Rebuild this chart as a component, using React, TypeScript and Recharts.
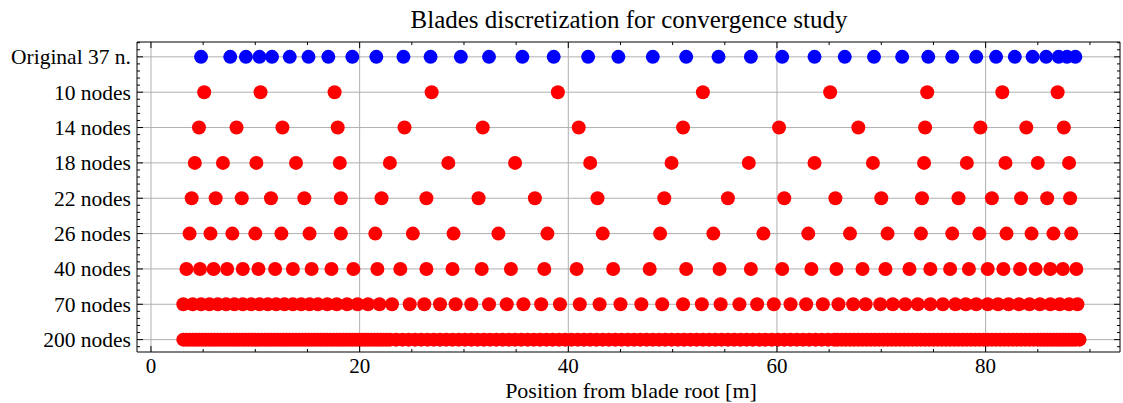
import React from 'react';
import { ScatterChart, Scatter, XAxis, YAxis, ReferenceLine } from 'recharts';

const FONT = '"Liberation Serif", "Times New Roman", serif';

const rowLabels = ['Original 37 n.', '10 nodes', '14 nodes', '18 nodes', '22 nodes', '26 nodes', '40 nodes', '70 nodes', '200 nodes'];

const original37 = [4.8, 7.6, 9.1, 10.4, 11.6, 13.3, 15.1, 17.0, 19.3, 21.6, 24.2, 26.8, 29.7, 32.4, 35.6, 38.6, 41.9, 44.8, 48.1, 51.3, 54.4, 57.5, 60.5, 63.6, 66.5, 69.3, 72.0, 74.5, 76.8, 79.1, 81.0, 82.8, 84.5, 85.8, 87.0, 87.8, 88.6];
const nodes10 = [5.1, 10.5, 17.6, 26.9, 39.0, 52.9, 65.1, 74.4, 81.6, 86.9];
const nodes14 = [4.6, 8.2, 12.6, 17.9, 24.3, 31.8, 41.0, 51.0, 60.2, 67.8, 74.2, 79.5, 83.9, 87.5];
const nodes18 = [4.2, 6.9, 10.1, 13.9, 18.1, 22.9, 28.5, 34.9, 42.1, 49.9, 57.3, 63.6, 69.2, 74.1, 78.2, 81.9, 85.0, 88.0];
const nodes22 = [3.9, 6.2, 8.7, 11.5, 14.7, 18.2, 22.1, 26.4, 31.4, 36.8, 42.8, 49.2, 55.3, 60.7, 65.6, 70.0, 73.9, 77.4, 80.6, 83.4, 85.9, 88.1];
const nodes26 = [3.7, 5.7, 7.8, 10.0, 12.5, 15.2, 18.2, 21.5, 25.1, 29.0, 33.3, 38.0, 43.3, 48.8, 53.9, 58.7, 63.0, 67.0, 70.6, 73.8, 76.8, 79.4, 82.0, 84.4, 86.5, 88.2];
const nodes40 = [3.4, 4.7, 6.0, 7.3, 8.8, 10.3, 11.9, 13.6, 15.4, 17.3, 19.4, 21.7, 23.9, 26.4, 28.9, 31.7, 34.5, 37.7, 40.8, 44.3, 47.8, 51.3, 54.5, 57.5, 60.5, 63.3, 65.7, 68.2, 70.4, 72.7, 74.7, 76.6, 78.4, 80.2, 81.7, 83.3, 84.8, 86.2, 87.4, 88.7];
const nodes70 = [3.1, 4.0, 4.8, 5.6, 6.4, 7.2, 8.0, 8.8, 9.6, 10.4, 11.2, 12.0, 12.8, 13.6, 14.4, 15.2, 16.0, 16.9, 17.8, 18.8, 19.8, 20.8, 21.9, 23.1,
  24.8, 26.2, 27.7, 29.2, 30.7, 32.4, 34.1, 35.7, 37.4, 39.2, 41.1, 43.0, 45.0, 47.0, 49.0, 51.0, 52.8, 54.6, 56.4, 58.1, 59.7, 61.3, 62.8, 64.4, 65.9, 67.3, 68.5,
  69.9, 71.1, 72.3, 73.5, 74.7, 75.9, 77.1, 78.1, 79.1, 80.2, 81.2, 82.2, 83.2, 84.2, 85.2, 86.2, 87.1, 88.0, 88.8];
const nodes200 = [3.1, 3.4, 3.7, 4.0, 4.3, 4.6, 4.9, 5.2, 5.5, 5.8, 6.1, 6.4, 6.7, 7.0, 7.3, 7.6, 7.9, 8.2, 8.5, 8.8, 9.1, 9.4, 9.7, 10.0, 10.3, 10.6, 10.9, 11.2, 11.5, 11.8, 12.1, 12.4, 12.7, 13.0, 13.3, 13.6, 13.9, 14.2, 14.5, 14.8, 15.1, 15.4, 15.7, 16.0, 16.3, 16.6, 16.9, 17.2, 17.5, 17.8, 18.1, 18.4, 18.7, 19.0, 19.3, 19.6, 19.9, 20.2, 20.5, 20.8, 21.1, 21.4, 21.7, 22.0, 22.3, 22.6, 22.9,
  23.5, 24.1, 24.7, 25.3, 25.9, 26.5, 27.1, 27.7, 28.3, 28.9, 29.5, 30.1, 30.7, 31.3, 31.9, 32.5, 33.1, 33.7, 34.3, 34.9, 35.5, 36.1, 36.7, 37.3, 37.9, 38.5, 39.1, 39.7, 40.3, 40.9, 41.5, 42.1, 42.7, 43.3, 43.9, 44.5, 45.1, 45.7, 46.3, 46.9, 47.5, 48.1, 48.7, 49.3, 49.9, 50.5, 51.1, 51.7, 52.3, 52.9, 53.5, 54.1, 54.7, 55.3, 55.9, 56.5, 57.1, 57.7, 58.3, 58.9, 59.5, 60.1, 60.7, 61.3, 61.9, 62.5, 63.1, 63.7, 64.3, 64.9, 65.5,
  65.8, 66.2, 66.6, 67.0, 67.4, 67.8, 68.2, 68.6, 69.0, 69.4, 69.8, 70.2, 70.6, 71.0, 71.4, 71.8, 72.2, 72.6, 73.0, 73.4, 73.8, 74.2, 74.6, 75.0, 75.4, 75.8, 76.2, 76.6, 77.0, 77.4, 77.8, 78.2, 78.6, 79.0, 79.4, 79.8, 80.2, 80.6, 81.0, 81.4, 81.8, 82.2, 82.6, 83.0, 83.4, 83.8, 84.2, 84.6, 85.0, 85.3, 85.6, 85.9, 86.2, 86.5, 86.8, 87.1, 87.4, 87.7, 88.0, 88.3, 88.6, 89.0];

const rows = [original37, nodes10, nodes14, nodes18, nodes22, nodes26, nodes40, nodes70, nodes200];
const rowColors = ['#0000ff', '#ff0000', '#ff0000', '#ff0000', '#ff0000', '#ff0000', '#ff0000', '#ff0000', '#ff0000'];

const xMajorTicks = [0, 20, 40, 60, 80];
const xMinorTicks = [5, 10, 15, 25, 30, 35, 45, 50, 55, 65, 70, 75, 85, 90];
const xTicks = [...xMajorTicks, ...xMinorTicks].sort((a, b) => a - b);
const yMajorTicks = [0, 1, 2, 3, 4, 5, 6, 7, 8];
const yMinorTicks = [-0.4, -0.2, 0.2, 0.4, 0.6, 0.8, 1.2, 1.4, 1.6, 1.8, 2.2, 2.4, 2.6, 2.8, 3.2, 3.4, 3.6, 3.8, 4.2, 4.4, 4.6, 4.8, 5.2, 5.4, 5.6, 5.8, 6.2, 6.4, 6.6, 6.8, 7.2, 7.4, 7.6, 7.8, 8.2];
const yTicks = [...yMajorTicks, ...yMinorTicks].sort((a, b) => a - b);

const X_DOMAIN: [number, number] = [-1.34, 92.88];
const Y_DOMAIN: [number, number] = [-0.42, 8.35];

const title = 'Blades discretization for convergence study';
const xLabel = 'Position from blade root [m]';

const isMajorX = (v: number) => xMajorTicks.includes(v);
const isMajorY = (v: number) => yMajorTicks.includes(v);

const BottomTick = (props: any) => {
  const { x, y, payload } = props;
  const v = payload.value;
  const major = isMajorX(v);
  return (
    <g>
      <line x1={x} x2={x} y1={y} y2={y - (major ? 6 : 3)} stroke="#000" strokeWidth={1} />
      {major && (
        <text x={x} y={y + 21} textAnchor="middle" fontFamily={FONT} fontSize={21} fill="#000">{v}</text>
      )}
    </g>
  );
};

const TopTick = (props: any) => {
  const { x, y, payload } = props;
  const major = isMajorX(payload.value);
  return <line x1={x} x2={x} y1={y} y2={y + (major ? 6 : 3)} stroke="#000" strokeWidth={1} />;
};

const LeftTick = (props: any) => {
  const { x, y, payload } = props;
  const v = payload.value;
  const major = isMajorY(v);
  return (
    <g>
      <line x1={x} x2={x + (major ? 6 : 3)} y1={y} y2={y} stroke="#000" strokeWidth={1} />
      {major && (
        <text x={x - 6} y={y} dy="0.35em" textAnchor="end" fontFamily={FONT} fontSize={21.5} fill="#000">{rowLabels[v]}</text>
      )}
    </g>
  );
};

const RightTick = (props: any) => {
  const { x, y, payload } = props;
  const major = isMajorY(payload.value);
  return <line x1={x} x2={x - (major ? 6 : 3)} y1={y} y2={y} stroke="#000" strokeWidth={1} />;
};

const Dot = (color: string) => (props: any) => (
  <circle cx={props.cx} cy={props.cy} r={7} fill={color} />
);

export default function App() {
  const W = 1123;
  const H = 403;
  return (
    <div style={{ position: 'absolute', left: 0, top: 0, width: W, height: H, background: '#fff' }}>
      <ScatterChart width={W} height={H} margin={{ top: 41, right: 2, bottom: 0, left: 0 }}>
        <XAxis xAxisId="b" type="number" dataKey="x" domain={X_DOMAIN} allowDataOverflow ticks={xTicks} interval={0}
          tickSize={0} tickMargin={0} tick={<BottomTick />} tickLine={false} axisLine={{ stroke: '#000', strokeWidth: 1 }} height={51} orientation="bottom" />
        <XAxis xAxisId="t" type="number" dataKey="x" domain={X_DOMAIN} allowDataOverflow ticks={xTicks} interval={0}
          tickSize={0} tickMargin={0} tick={<TopTick />} tickLine={false} axisLine={{ stroke: '#000', strokeWidth: 1 }} height={1} orientation="top" />
        <YAxis yAxisId="l" type="number" dataKey="y" domain={Y_DOMAIN} allowDataOverflow reversed ticks={yTicks} interval={0}
          tickSize={0} tickMargin={0} tick={<LeftTick />} tickLine={false} axisLine={{ stroke: '#000', strokeWidth: 1 }} width={137} orientation="left" />
        <YAxis yAxisId="r" type="number" dataKey="y" domain={Y_DOMAIN} allowDataOverflow reversed ticks={yTicks} interval={0}
          tickSize={0} tickMargin={0} tick={<RightTick />} tickLine={false} axisLine={{ stroke: '#000', strokeWidth: 1 }} width={1} orientation="right" />
        {xMajorTicks.map((v) => (
          <ReferenceLine key={'gx' + v} xAxisId="b" yAxisId="l" x={v} stroke="#b0b0b0" strokeWidth={1} />
        ))}
        {yMajorTicks.map((v) => (
          <ReferenceLine key={'gy' + v} xAxisId="b" yAxisId="l" y={v} stroke="#b0b0b0" strokeWidth={1} />
        ))}
        {rows.map((vals, i) => (
          <Scatter key={rowLabels[i]} name={rowLabels[i]} xAxisId="b" yAxisId="l"
            data={vals.map((x) => ({ x, y: i }))} fill={rowColors[i]} shape={Dot(rowColors[i])} isAnimationActive={false} />
        ))}
      </ScatterChart>
      <svg width={W} height={H} style={{ position: 'absolute', left: 0, top: 0, pointerEvents: 'none' }}>
        <text x={629} y={28} textAnchor="middle" fontFamily={FONT} fontSize={25} fill="#000">{title}</text>
        <text x={631} y={398} textAnchor="middle" fontFamily={FONT} fontSize={22} fill="#000">{xLabel}</text>
      </svg>
    </div>
  );
}
